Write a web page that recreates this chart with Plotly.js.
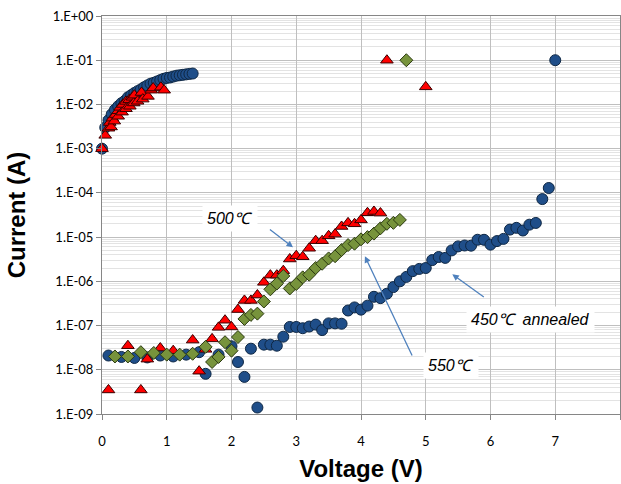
<!DOCTYPE html>
<html>
<head>
<meta charset="utf-8">
<script src="https://cdn.plot.ly/plotly-3.0.1.min.js"></script>
<style>html,body{margin:0;padding:0;background:#fff;}#chart{width:621px;height:484px;}</style>
</head>
<body>
<div id="chart"></div>
<script>
// 450℃ annealed (blue circles)
const blueV = [0,0.05,0.1,0.15,0.2,0.25,0.3,0.35,0.4,0.45,0.5,0.55,0.6,0.65,0.7,0.75,0.8,0.85,0.9,0.95,1.0,1.05,1.1,1.15,1.2,1.25,1.3,1.35,1.4,
  0.1,0.3,0.5,0.7,0.9,1.1,1.3,1.5,1.6,1.8,2.0,2.1,2.2,2.3,2.4,2.5,2.6,2.7,2.8,2.9,3.0,3.1,3.2,3.3,3.4,3.5,3.6,3.7,3.8,3.9,
  4.0,4.1,4.2,4.3,4.4,4.5,4.6,4.7,4.8,4.9,5.0,5.1,5.2,5.3,5.4,5.5,5.6,5.7,5.8,5.9,6.0,6.1,6.2,6.3,6.4,6.5,6.6,6.7,6.8,6.9,7.0];
const blueI = [1e-3,3.0e-3,4.4e-3,6.0e-3,7.6e-3,9.1e-3,1.07e-2,1.2e-2,1.45e-2,1.62e-2,1.82e-2,2.0e-2,2.19e-2,2.45e-2,2.69e-2,2.95e-2,3.09e-2,3.31e-2,3.55e-2,3.8e-2,3.98e-2,4.07e-2,4.27e-2,4.47e-2,4.57e-2,4.68e-2,4.79e-2,4.9e-2,5.0e-2,
  2.1e-8,1.95e-8,1.85e-8,1.9e-8,2.1e-8,2.0e-8,2.2e-8,2.5e-8,8.1e-9,2.2e-8,3.4e-8,1.5e-8,6.9e-9,3.0e-8,1.4e-9,3.7e-8,3.7e-8,3.5e-8,5.6e-8,9.3e-8,9.3e-8,8.7e-8,9.5e-8,1.05e-7,7.9e-8,1.12e-7,1.12e-7,1.1e-7,2.19e-7,2.57e-7,
  2.29e-7,2.82e-7,4.47e-7,4.17e-7,5.25e-7,7.41e-7,1.0e-6,1.26e-6,1.7e-6,1.91e-6,2.0e-6,3.02e-6,3.55e-6,3.39e-6,5.0e-6,6.17e-6,6.46e-6,6.4e-6,8.71e-6,8.7e-6,6.76e-6,8.13e-6,9.12e-6,1.48e-5,1.62e-5,1.41e-5,1.91e-5,2.09e-5,7.24e-5,1.29e-4,1e-1];

// 500℃ (red triangles)
const redV = [0,0.05,0.1,0.12,0.14,0.16,0.19,0.21,0.25,0.25,0.28,0.31,0.32,0.37,0.37,0.42,0.43,0.47,0.49,0.5,0.55,0.61,0.63,0.71,0.76,0.79,0.91,0.96,
  0.1,0.4,0.6,0.7,0.9,1.1,1.4,1.5,1.6,1.7,1.8,1.9,2.0,2.1,2.2,2.3,2.4,2.5,2.6,2.7,2.8,2.9,3.0,3.1,3.2,3.3,3.4,3.5,3.6,3.7,3.8,3.9,4.0,4.1,4.2,4.3,4.4,5.0];
const redI = [1e-3,2.0e-3,2.9e-3,3.9e-3,3.1e-3,4.9e-3,4.2e-3,5.9e-3,7.2e-3,5.4e-3,8.6e-3,6.7e-3,1.0e-2,1.17e-2,8.0e-3,1.28e-2,9.1e-3,1.45e-2,1.08e-2,1.62e-2,1.18e-2,1.86e-2,1.32e-2,1.52e-2,2.1e-2,2.35e-2,2.45e-2,2.1e-2,
  3.5e-9,3.5e-8,3.5e-9,1.74e-8,3.1e-8,2.7e-8,4.7e-8,9.3e-9,2.9e-8,5.0e-8,9.1e-8,1.32e-7,9.3e-8,2.3e-7,3.7e-7,3.7e-7,4.9e-7,9.5e-7,1.38e-6,1.38e-6,1.74e-6,3.2e-6,3.8e-6,3.6e-6,5.6e-6,8.3e-6,8.3e-6,1.07e-5,1.17e-5,1.74e-5,2.1e-5,2.0e-5,2.45e-5,3.55e-5,3.8e-5,3.5e-5,1e-1,2.5e-2];

// 550℃ (green diamonds)
const greenV = [0.2,0.4,0.6,0.8,1.0,1.2,1.4,1.6,1.7,1.8,1.9,2.0,2.1,2.2,2.3,2.4,2.5,2.6,2.7,2.8,2.9,3.0,3.1,3.2,3.3,3.4,3.5,3.6,3.7,3.8,3.9,4.0,4.1,4.2,4.3,4.4,4.5,4.6,4.7];
const greenI = [2.0e-8,2.0e-8,2.5e-8,2.4e-8,2.2e-8,2.2e-8,2.3e-8,3.3e-8,1.5e-8,1.95e-8,4.2e-8,2.7e-8,5.5e-8,1.41e-7,1.74e-7,1.86e-7,3.5e-7,6.6e-7,8.9e-7,1.32e-6,6.9e-7,8.7e-7,1.23e-6,1.41e-6,2.0e-6,2.5e-6,3.3e-6,3.7e-6,5.1e-6,6.6e-6,7.1e-6,8.9e-6,1.0e-5,1.2e-5,1.58e-5,2.0e-5,2.1e-5,2.45e-5,1e-1];

// Axis ticks
const yTickVals = [1e-9,1e-8,1e-7,1e-6,1e-5,1e-4,1e-3,1e-2,1e-1,1e0];
const yTickText = ['1.E-09','1.E-08','1.E-07','1.E-06','1.E-05','1.E-04','1.E-03','1.E-02','1.E-01','1.E+00'];
const xTickVals = [0,1,2,3,4,5,6,7,8];

const traces = [
  {x: blueV, y: blueI, mode: 'markers', type: 'scatter', name: '450℃ annealed', cliponaxis: false,
   marker: {symbol: 'circle', size: 11, color: '#1F4E89', line: {color: '#0E2744', width: 1}}},
  {x: redV, y: redI, mode: 'markers', type: 'scatter', name: '500℃', cliponaxis: false,
   marker: {symbol: 'triangle-up', size: 11, color: '#FF0000', line: {color: '#3A0000', width: 1}}},
  {x: greenV, y: greenI, mode: 'markers', type: 'scatter', name: '550℃', cliponaxis: false,
   marker: {symbol: 'diamond', size: 10, color: '#77933C', line: {color: '#2B3A10', width: 1}}}
];

const arrowColor = '#4F81BD';
const annFont = {family: 'Liberation Sans, Arial, sans-serif', size: 16, color: '#000'};
const layout = {
  width: 621, height: 484,
  margin: {l: 102, r: 1, t: 16, b: 70},
  paper_bgcolor: '#fff', plot_bgcolor: '#fff',
  showlegend: false,
  font: {family: 'Liberation Sans, Arial, sans-serif', color: '#000'},
  xaxis: {
    range: [0, 8], tickmode: 'array', tickvals: xTickVals,
    showgrid: true, gridcolor: '#BFBFBF', gridwidth: 1,
    zeroline: false, showline: true, linecolor: '#868686', linewidth: 1, mirror: true,
    ticks: 'outside', ticklen: 5, tickcolor: '#868686',
    tickfont: {size: 13, family: 'Lato, Liberation Sans, sans-serif'},
    ticklabelstandoff: 10,
    title: {text: '<b>Voltage (V)</b>', font: {size: 24, family: 'Liberation Sans, Arial, sans-serif'}, standoff: 12}
  },
  yaxis: {
    type: 'log', range: [-9, 0], tickmode: 'array', tickvals: yTickVals, ticktext: yTickText,
    showgrid: true, gridcolor: '#BFBFBF', gridwidth: 1,
    minor: {dtick: 'D1', showgrid: true, gridcolor: '#E3E3E3', ticks: ''},
    zeroline: false, showline: true, linecolor: '#868686', linewidth: 1, mirror: true,
    ticks: 'outside', ticklen: 5, tickcolor: '#868686',
    tickfont: {size: 13, family: 'Lato, Liberation Sans, sans-serif'},
    title: {text: '<b>Current (A)</b>', font: {size: 24, family: 'Liberation Sans, Arial, sans-serif'}, standoff: 20}
  },
  annotations: [
    {x: 2.95, y: -5.23, ax: 2.57, ay: -4.80, axref: 'x', ayref: 'y', xref: 'x', yref: 'y', text: '',
     showarrow: true, arrowhead: 2, arrowsize: 1, arrowwidth: 1.3, arrowcolor: arrowColor},
    {x: 4.06, y: -5.43, ax: 4.80, ay: -7.71, axref: 'x', ayref: 'y', xref: 'x', yref: 'y', text: '',
     showarrow: true, arrowhead: 2, arrowsize: 1, arrowwidth: 1.3, arrowcolor: arrowColor},
    {x: 5.41, y: -5.84, ax: 5.92, ay: -6.38, axref: 'x', ayref: 'y', xref: 'x', yref: 'y', text: '',
     showarrow: true, arrowhead: 2, arrowsize: 1, arrowwidth: 1.3, arrowcolor: arrowColor},
    {x: 1.98, y: -4.59, xref: 'x', yref: 'y', text: '<i>500℃</i>', showarrow: false,
     font: annFont, bgcolor: '#fff', borderpad: 4},
    {x: 5.39, y: -7.90, xref: 'x', yref: 'y', text: '<i>550℃</i>', showarrow: false,
     font: annFont, bgcolor: '#fff', borderpad: 4},
    {x: 6.61, y: -6.86, xref: 'x', yref: 'y', text: '<i>450℃  annealed</i>', showarrow: false,
     font: annFont, bgcolor: '#fff', borderpad: 4}
  ]
};

Plotly.newPlot('chart', traces, layout, {displayModeBar: false, staticPlot: true});
</script>
</body>
</html>
